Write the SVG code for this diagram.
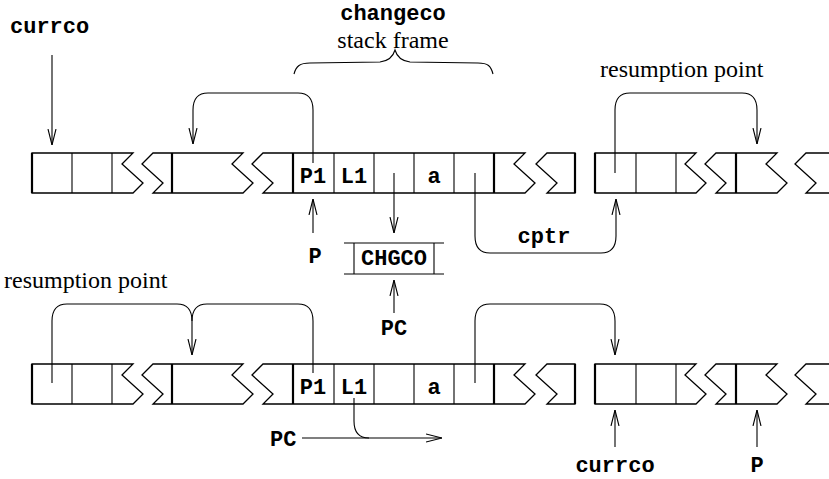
<svg xmlns="http://www.w3.org/2000/svg" xmlns:xlink="http://www.w3.org/1999/xlink" width="829" height="479" viewBox="0 0 829 479">
<style>
.ol{fill:none;stroke:#000;stroke-width:1.3;stroke-linejoin:miter}
.thin{stroke:#000;stroke-width:1.1}
.thick{stroke:#000;stroke-width:2.2}
.con{fill:none;stroke:#000;stroke-width:1.1}
.mono{font-family:"Liberation Mono","DejaVu Sans Mono",monospace;font-weight:bold;font-size:22px;fill:#000}
.cell{font-family:"Liberation Mono","DejaVu Sans Mono",monospace;font-weight:bold;font-size:22px;fill:#000;text-anchor:middle}
.serif{font-family:"Liberation Serif","DejaVu Serif",serif;font-size:24px;fill:#000}
</style>
<defs>
<marker id="ah" viewBox="0 0 16 10" refX="16" refY="5" markerWidth="16" markerHeight="10" markerUnits="userSpaceOnUse" orient="auto">
<path d="M0,1 L16,5 L0,9" fill="none" stroke="#000" stroke-width="1.1"/>
</marker>
<g id="row">
<path class="ol" d="M133,0 H32 V40 H133 L143,30 L122,11 Z"/>
<path class="ol" d="M153,0 H243 L232,11 L253,30 L243,40 H153 L163,30 L142,11 Z"/>
<path class="ol" d="M263,0 H525 L514,11 L535,30 L525,40 H263 L273,30 L252,11 Z"/>
<path class="ol" d="M547,0 H575 V40 H547 L557,30 L536,11 Z"/>
<path class="ol" d="M696,0 H595 V40 H696 L706,30 L685,11 Z"/>
<path class="ol" d="M716,0 H777 L766,11 L787,30 L777,40 H716 L726,30 L705,11 Z"/>
<path class="ol" d="M840,0 H806 L795,11 L816,30 L806,40 H840"/>
<g class="thick">
<line x1="32" y1="0" x2="32" y2="40"/>
<line x1="172" y1="0" x2="172" y2="40"/>
<line x1="293" y1="0" x2="293" y2="40"/>
<line x1="494" y1="0" x2="494" y2="40"/>
<line x1="575" y1="0" x2="575" y2="40"/>
<line x1="595" y1="0" x2="595" y2="40"/>
<line x1="736" y1="0" x2="736" y2="40"/>
</g>
<g class="thin">
<line x1="72" y1="0" x2="72" y2="40"/>
<line x1="112" y1="0" x2="112" y2="40"/>
<line x1="334" y1="0" x2="334" y2="40"/>
<line x1="374" y1="0" x2="374" y2="40"/>
<line x1="414" y1="0" x2="414" y2="40"/>
<line x1="454" y1="0" x2="454" y2="40"/>
<line x1="636" y1="0" x2="636" y2="40"/>
<line x1="676" y1="0" x2="676" y2="40"/>
</g>
<text class="cell" x="313" y="30">P1</text>
<text class="cell" x="354" y="30">L1</text>
<text class="cell" x="434" y="30">a</text>
</g>
</defs>

<g id="stack-top">
<use xlink:href="#row" href="#row" transform="translate(0,153)"/>
</g>
<g id="stack-bottom">
<use xlink:href="#row" href="#row" transform="translate(0,364)"/>
</g>

<g id="label-currco-top"><text class="mono" x="10" y="33">currco</text></g>
<g id="label-changeco">
<text class="mono" x="393" y="20" text-anchor="middle">changeco</text>
<text class="serif" x="393" y="48" text-anchor="middle">stack frame</text>
<path class="con" d="M294,74 C296,66 300,63 310,63 L380,62 C388,61 393,57 395,50 C397,57 402,61 410,62 L478,63 C488,63 491,66 493,74"/>
</g>
<g id="label-resumption-top"><text class="serif" x="600" y="77">resumption point</text></g>
<g id="label-resumption-bottom"><text class="serif" x="4" y="288">resumption point</text></g>
<g id="label-P-top"><text class="mono" x="315" y="263" text-anchor="middle">P</text></g>
<g id="label-cptr"><text class="mono" x="544" y="243" text-anchor="middle">cptr</text></g>
<g id="node-chgco">
<line class="thin" x1="344" y1="243" x2="444" y2="243"/>
<line class="thin" x1="344" y1="274" x2="444" y2="274"/>
<line class="thin" x1="354" y1="243" x2="354" y2="274"/>
<line class="thin" x1="434" y1="243" x2="434" y2="274"/>
<text class="mono" x="394" y="265" text-anchor="middle">CHGCO</text>
</g>
<g id="label-PC-mid"><text class="mono" x="394" y="335" text-anchor="middle">PC</text></g>
<g id="label-PC-bottom"><text class="mono" x="270" y="446">PC</text></g>
<g id="label-currco-bottom"><text class="mono" x="615" y="472" text-anchor="middle">currco</text></g>
<g id="label-P-bottom"><text class="mono" x="757" y="472" text-anchor="middle">P</text></g>

<g id="connectors">
<path class="con" marker-end="url(#ah)" d="M52,55 V145"/>
<path class="con" marker-end="url(#ah)" d="M313,163 V110 C313,99 309,93 298,93 H208 C197,93 193,99 193,110 V144"/>
<path class="con" marker-end="url(#ah)" d="M394,173 V233"/>
<path class="con" marker-end="url(#ah)" d="M475,173 V236 C475,247 479,253 490,253 H601 C612,253 616,247 616,236 V199"/>
<path class="con" marker-end="url(#ah)" d="M615,173 V110 C615,99 619,93 630,93 H742 C753,93 757,99 757,110 V144"/>
<path class="con" marker-end="url(#ah)" d="M313,233 V199"/>
<path class="con" marker-end="url(#ah)" d="M394,313 V280"/>
<path class="con" d="M52,383 V321 C52,310 56,304 67,304 H177 C188,304 192,310 192,321"/>
<path class="con" marker-end="url(#ah)" d="M313,373 V321 C313,310 309,304 298,304 H207 C196,304 192,310 192,321 V355"/>
<path class="con" marker-end="url(#ah)" d="M475,383 V321 C475,310 479,304 490,304 H600 C611,304 615,310 615,321 V355"/>
<path class="con" marker-end="url(#ah)" d="M302,438 H442"/>
<path class="con" d="M354,398 V421 C354,432 358,438 369,438"/>
<path class="con" marker-end="url(#ah)" d="M615,447 V410"/>
<path class="con" marker-end="url(#ah)" d="M757,447 V410"/>
</g>
</svg>
